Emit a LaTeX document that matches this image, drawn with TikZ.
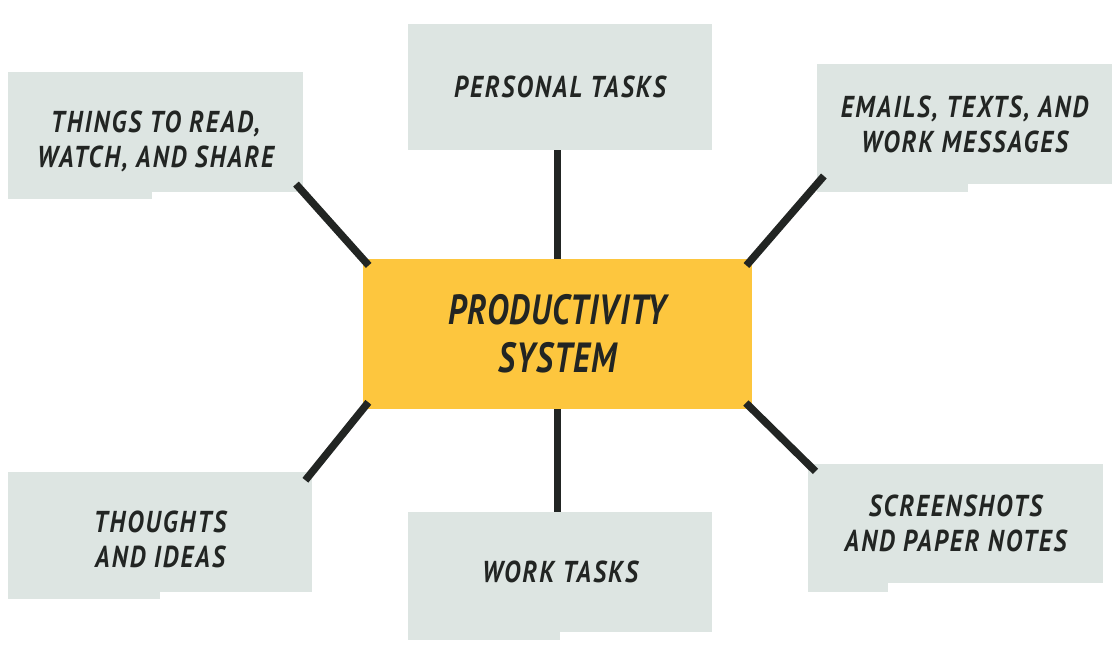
\documentclass[tikz,border=0pt]{standalone}
\usepackage{fontspec}
\newfontfamily\notefont[FakeStretch=0.83,LetterSpace=7]{PT Sans}
\newfontfamily\corefont[FakeStretch=0.78,LetterSpace=3]{PT Sans}
\usetikzlibrary{positioning}
\definecolor{notegrey}{HTML}{DDE5E2}
\definecolor{coreyellow}{HTML}{FDC63E}
\definecolor{inkdark}{HTML}{222523}
\newcommand{\pxl}{0.7113pt}
\tikzset{
    x=0.025cm, y=-0.025cm, % one unit is one pixel of the sketch, y grows downwards
    note/.style={fill=notegrey, text=inkdark, align=center, inner sep=0pt,
        minimum width=295*\pxl, minimum height=120*\pxl,
        font=\notefont\bfseries\itshape\fontsize{21.5}{25}\selectfont}, % the grey paper slips
    core/.style={note, fill=coreyellow, minimum width=389*\pxl, minimum height=150*\pxl,
        font=\corefont\bfseries\itshape\fontsize{30}{34}\selectfont}, % the yellow slip in the middle
    tab/.style={fill=notegrey}, % torn strip under a slip
    link/.style={draw=inkdark, line width=7*\pxl}, % thick marker strokes
    slant/.style={link, line width=7.5*\pxl, shorten <=-11*\pxl, shorten >=-9*\pxl}, % corner strokes reach into the slips
}
\begin{document}
\begin{tikzpicture}
        \useasboundingbox (0,0) rectangle (1120,664);
        \node[core] (core) at (557.5,334) {PRODUCTIVITY\\SYSTEM};
        \node[note, minimum width=304*\pxl, minimum height=126*\pxl] (personal) at (560,87) {PERSONAL TASKS};
        \node[note, text height=54pt] (things) at (155.5,132) {THINGS TO READ,\\WATCH, AND SHARE};
        \node[note] (emails) at (964.5,124) {EMAILS, TEXTS, AND\\WORK MESSAGES};
        \node[note, minimum width=304*\pxl, text height=51pt] (thoughts) at (160,532) {THOUGHTS\\AND IDEAS};
        \node[note, minimum width=304*\pxl] (work) at (560,572) {WORK TASKS};
        \node[note, minimum height=119*\pxl] (screens) at (955.5,523.5) {SCREENSHOTS\\AND PAPER NOTES};
        \fill[tab] (things.south west) rectangle ++(144,7);
        \fill[tab] (emails.south west) rectangle ++(151,8);
        \fill[tab] (thoughts.south west) rectangle ++(152,7);
        \fill[tab] (work.south west) rectangle ++(152,8);
        \fill[tab] (screens.south west) rectangle ++(80,9);
        \draw (personal.south -| core.north) edge[link] (core.north)
        (core.south) edge[link] (work.north -| core.south)
        (things.south east) edge[slant] (core.north west)
        (emails.south west) edge[slant] (core.north east)
        (thoughts.north east) edge[slant] (core.south west)
        (screens.north west) edge[slant] (core.south east);
    \end{tikzpicture}
\end{document}
